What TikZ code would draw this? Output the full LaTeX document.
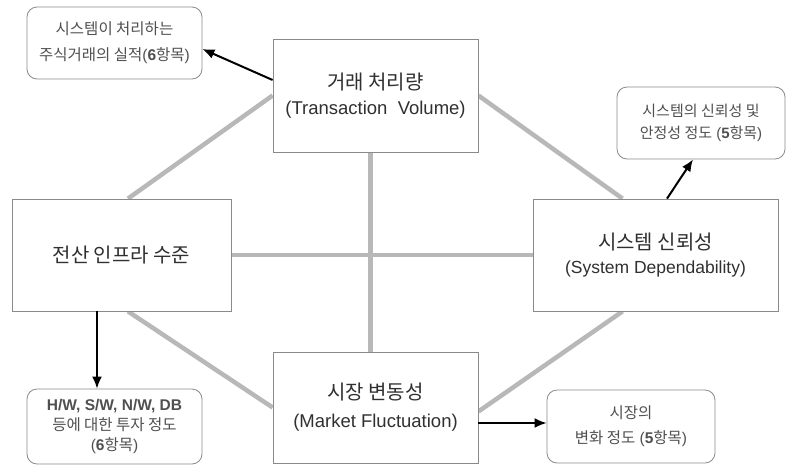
\documentclass[tikz,border=0pt]{standalone}
\usepackage{fontspec}
\setmainfont{Liberation Sans}
\newfontfamily\kr{Noto Sans CJK KR}
\usetikzlibrary{arrows.meta,backgrounds}
\definecolor{boxgray}{HTML}{8A8A8A}
\definecolor{linkgray}{HTML}{B8B8B8}
\definecolor{maintext}{HTML}{303030}
\definecolor{notetext}{HTML}{505050}
\tikzset{
  mainbox/.style={draw=boxgray, line width=0.8pt, fill=white, text=maintext, align=center, inner sep=0pt},
  notebox/.style={draw=boxgray, line width=0.8pt, fill=white, rounded corners=10pt, text=notetext, align=center, inner sep=0pt},
  link/.style={draw=linkgray, line width=4.5pt},
  arr/.style={-{Latex[length=12pt,width=10pt]}, line width=2pt, draw=black}
}
\begin{document}
\begin{tikzpicture}[x=1pt,y=-1pt]
\useasboundingbox (0,0) rectangle (787,472);
% main boxes
\node[mainbox, minimum width=205pt, minimum height=113pt, font=\fontsize{20}{25}\selectfont] (T) at (375.5,95.5)
  {{\kr 거래 처리량}\\{\fontsize{18.5}{22}\selectfont(Transaction\ \ Volume)}};
\node[mainbox, minimum width=219pt, minimum height=112pt, font=\fontsize{20}{28}\selectfont] (L) at (121.5,255)
  {\kr 전산 인프라 수준};
\node[mainbox, minimum width=245pt, minimum height=112pt, font=\fontsize{20}{24}\selectfont] (R) at (655.5,255)
  {{\kr 시스템 신뢰성}\\{\fontsize{17.5}{20}\selectfont(System Dependability)}};
\node[mainbox, minimum width=205pt, minimum height=111pt, font=\fontsize{20}{28}\selectfont] (B) at (375.5,407.5)
  {{\kr 시장 변동성}\\{\fontsize{18.5}{22}\selectfont(Market Fluctuation)}};
% note boxes
\node[notebox, minimum width=175pt, minimum height=72pt, font=\fontsize{15.5}{26}\selectfont] (TL) at (114.5,43)
  {{\kr 시스템이 처리하는}\\{\kr 주식거래의 실적}(\textbf{6}{\kr 항목})};
\node[notebox, minimum width=168pt, minimum height=72pt, font=\fontsize{15}{22}\selectfont] (TR) at (701,123)
  {{\kr 시스템의 신뢰성 및}\\{\kr 안정성 정도} (\textbf{5}{\kr 항목})};
\node[notebox, minimum width=175pt, minimum height=75pt, font=\fontsize{15.5}{20}\selectfont] (BL) at (114.5,426.5)
  {\textbf{H/W, S/W, N/W, DB}\\{\kr 등에 대한 투자 정도}\\(\textbf{6}{\kr 항목})};
\node[notebox, minimum width=168pt, minimum height=73pt, font=\fontsize{15.5}{25}\selectfont] (BR) at (631,426.5)
  {{\kr 시장의}\\{\kr 변화 정도} (\textbf{5}{\kr 항목})};
% gray links
\begin{scope}[on background layer]
\draw[link] (T.west) -- ([xshift=6.5pt]L.north);
\draw[link] (T.east) -- ([xshift=-33pt]R.north);
\draw[link] ([xshift=-5pt]T.south) -- ([xshift=-5pt]B.north);
\draw[link] (L.east) -- (R.west);
\draw[link] ([xshift=6.5pt]L.south) -- (B.west);
\draw[link] ([yshift=-4pt]B.east) -- ([xshift=-33pt]R.south);
\end{scope}
% arrows
\draw[arr] ([yshift=15.5pt]T.west) -- ([yshift=-6pt]TL.east);
\draw[arr] ([xshift=11.5pt]R.north) -- ([xshift=-8pt]TR.south);
\draw[arr] ([xshift=-24.5pt]L.south) -- ([xshift=-17.5pt]BL.north);
\draw[arr] ([yshift=-15.5pt]B.east) -- ([yshift=3.5pt]BR.west);
\end{tikzpicture}
\end{document}
